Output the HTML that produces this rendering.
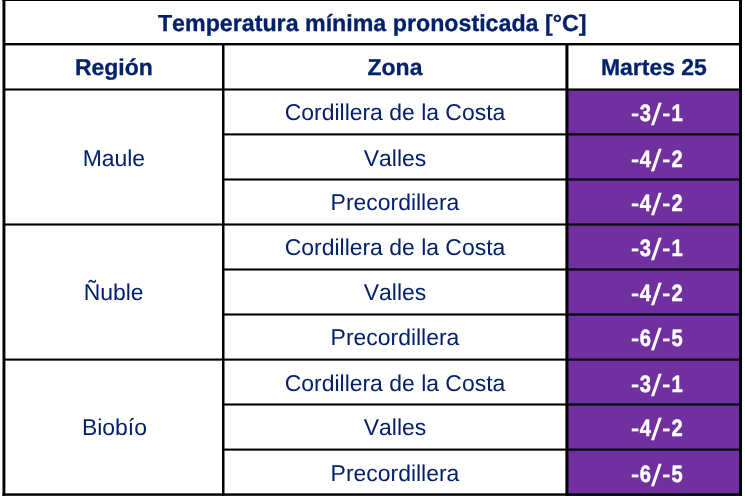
<!DOCTYPE html>
<html lang="es"><head><meta charset="utf-8"><title>Temperatura mínima pronosticada</title>
<style>html,body{margin:0;padding:0;background:#fff;overflow:hidden}svg{display:block}text{font-family:"Liberation Sans",Arial,sans-serif;font-kerning:none;text-rendering:geometricPrecision}.n text{text-anchor:middle}.b{font-weight:bold;stroke:#03206b;stroke-width:.3px}.n{fill:#03206b}.w{fill:#fff;font-weight:bold}</style></head><body>
<svg width="745" height="496" viewBox="0 0 745 496">
<rect x="0" y="0" width="745" height="496" fill="#fff"/>
<rect x="567.95" y="89.50" width="171.55" height="406.50" fill="#7030a0"/>
<g fill="#000">
<rect x="4.90" y="43.00" width="734.60" height="2.40"/>
<rect x="4.90" y="88.45" width="734.60" height="2.10"/>
<rect x="224.00" y="133.35" width="515.50" height="2.10"/>
<rect x="224.00" y="178.45" width="515.50" height="2.10"/>
<rect x="4.90" y="223.45" width="734.60" height="2.10"/>
<rect x="224.00" y="268.45" width="515.50" height="2.10"/>
<rect x="224.00" y="313.45" width="515.50" height="2.10"/>
<rect x="4.90" y="358.55" width="734.60" height="2.10"/>
<rect x="224.00" y="403.45" width="515.50" height="2.10"/>
<rect x="224.00" y="448.55" width="515.50" height="2.10"/>
<rect x="222.00" y="44.20" width="2.50" height="451.80"/>
<rect x="565.40" y="44.20" width="3.05" height="451.80"/>
<rect x="2.50" y="-2" width="2.90" height="500"/>
<rect x="739.00" y="-2" width="3.00" height="500"/>
<rect x="2.50" y="-2.00" width="739.50" height="3.00"/>
<rect x="2.50" y="493.35" width="739.50" height="2.45"/>
</g>
<g class="n" font-size="22.95">
<text class="b" font-size="23.23" x="372.20" y="31.00">Temperatura mínima pronosticada [°C]</text>
<text class="b" x="113.90" y="74.85">Región</text>
<text class="b" x="395.00" y="74.85">Zona</text>
<text class="b" x="653.90" y="74.85">Martes 25</text>
<text x="113.90" y="165.65">Maule</text>
<text x="395.00" y="119.80">Cordillera de la Costa</text>
<text x="395.00" y="165.70">Valles</text>
<text x="395.00" y="209.85">Precordillera</text>
<text x="113.60" y="300.15">Ñuble</text>
<text x="395.00" y="254.85">Cordillera de la Costa</text>
<text x="395.00" y="300.25">Valles</text>
<text x="395.00" y="344.90">Precordillera</text>
<text x="114.40" y="435.45">Biobío</text>
<text x="395.00" y="390.90">Cordillera de la Costa</text>
<text x="395.00" y="434.90">Valles</text>
<text x="395.00" y="480.95">Precordillera</text>
</g>
<g class="w" font-size="23.70">
<text><tspan x="630.79" y="120.60" font-size="23.50" textLength="8.61" lengthAdjust="spacingAndGlyphs">-</tspan><tspan x="639.65" y="120.90" font-size="23.70" textLength="11.20" lengthAdjust="spacingAndGlyphs" stroke="#fff" stroke-width="0.5">3</tspan><tspan x="651.10" y="124.80" font-size="30.80" textLength="10.70" lengthAdjust="spacingAndGlyphs" font-weight="normal">/</tspan><tspan x="662.09" y="120.60" font-size="23.50" textLength="8.61" lengthAdjust="spacingAndGlyphs">-</tspan><tspan x="671.40" y="120.90" font-size="23.70" textLength="11.20" lengthAdjust="spacingAndGlyphs" stroke="#fff" stroke-width="0.5">1</tspan></text>
<text><tspan x="630.79" y="166.50" font-size="23.50" textLength="8.61" lengthAdjust="spacingAndGlyphs">-</tspan><tspan x="639.65" y="166.80" font-size="23.70" textLength="11.20" lengthAdjust="spacingAndGlyphs" stroke="#fff" stroke-width="0.5">4</tspan><tspan x="651.10" y="170.70" font-size="30.80" textLength="10.70" lengthAdjust="spacingAndGlyphs" font-weight="normal">/</tspan><tspan x="662.09" y="166.50" font-size="23.50" textLength="8.61" lengthAdjust="spacingAndGlyphs">-</tspan><tspan x="671.40" y="166.80" font-size="23.70" textLength="11.20" lengthAdjust="spacingAndGlyphs" stroke="#fff" stroke-width="0.5">2</tspan></text>
<text><tspan x="630.79" y="210.65" font-size="23.50" textLength="8.61" lengthAdjust="spacingAndGlyphs">-</tspan><tspan x="639.65" y="210.95" font-size="23.70" textLength="11.20" lengthAdjust="spacingAndGlyphs" stroke="#fff" stroke-width="0.5">4</tspan><tspan x="651.10" y="214.85" font-size="30.80" textLength="10.70" lengthAdjust="spacingAndGlyphs" font-weight="normal">/</tspan><tspan x="662.09" y="210.65" font-size="23.50" textLength="8.61" lengthAdjust="spacingAndGlyphs">-</tspan><tspan x="671.40" y="210.95" font-size="23.70" textLength="11.20" lengthAdjust="spacingAndGlyphs" stroke="#fff" stroke-width="0.5">2</tspan></text>
<text><tspan x="630.79" y="255.65" font-size="23.50" textLength="8.61" lengthAdjust="spacingAndGlyphs">-</tspan><tspan x="639.65" y="255.95" font-size="23.70" textLength="11.20" lengthAdjust="spacingAndGlyphs" stroke="#fff" stroke-width="0.5">3</tspan><tspan x="651.10" y="259.85" font-size="30.80" textLength="10.70" lengthAdjust="spacingAndGlyphs" font-weight="normal">/</tspan><tspan x="662.09" y="255.65" font-size="23.50" textLength="8.61" lengthAdjust="spacingAndGlyphs">-</tspan><tspan x="671.40" y="255.95" font-size="23.70" textLength="11.20" lengthAdjust="spacingAndGlyphs" stroke="#fff" stroke-width="0.5">1</tspan></text>
<text><tspan x="630.79" y="301.05" font-size="23.50" textLength="8.61" lengthAdjust="spacingAndGlyphs">-</tspan><tspan x="639.65" y="301.35" font-size="23.70" textLength="11.20" lengthAdjust="spacingAndGlyphs" stroke="#fff" stroke-width="0.5">4</tspan><tspan x="651.10" y="305.25" font-size="30.80" textLength="10.70" lengthAdjust="spacingAndGlyphs" font-weight="normal">/</tspan><tspan x="662.09" y="301.05" font-size="23.50" textLength="8.61" lengthAdjust="spacingAndGlyphs">-</tspan><tspan x="671.40" y="301.35" font-size="23.70" textLength="11.20" lengthAdjust="spacingAndGlyphs" stroke="#fff" stroke-width="0.5">2</tspan></text>
<text><tspan x="630.79" y="345.70" font-size="23.50" textLength="8.61" lengthAdjust="spacingAndGlyphs">-</tspan><tspan x="639.65" y="346.00" font-size="23.70" textLength="11.20" lengthAdjust="spacingAndGlyphs" stroke="#fff" stroke-width="0.5">6</tspan><tspan x="651.10" y="349.90" font-size="30.80" textLength="10.70" lengthAdjust="spacingAndGlyphs" font-weight="normal">/</tspan><tspan x="662.09" y="345.70" font-size="23.50" textLength="8.61" lengthAdjust="spacingAndGlyphs">-</tspan><tspan x="671.40" y="346.00" font-size="23.70" textLength="11.20" lengthAdjust="spacingAndGlyphs" stroke="#fff" stroke-width="0.5">5</tspan></text>
<text><tspan x="630.79" y="391.70" font-size="23.50" textLength="8.61" lengthAdjust="spacingAndGlyphs">-</tspan><tspan x="639.65" y="392.00" font-size="23.70" textLength="11.20" lengthAdjust="spacingAndGlyphs" stroke="#fff" stroke-width="0.5">3</tspan><tspan x="651.10" y="395.90" font-size="30.80" textLength="10.70" lengthAdjust="spacingAndGlyphs" font-weight="normal">/</tspan><tspan x="662.09" y="391.70" font-size="23.50" textLength="8.61" lengthAdjust="spacingAndGlyphs">-</tspan><tspan x="671.40" y="392.00" font-size="23.70" textLength="11.20" lengthAdjust="spacingAndGlyphs" stroke="#fff" stroke-width="0.5">1</tspan></text>
<text><tspan x="630.79" y="435.70" font-size="23.50" textLength="8.61" lengthAdjust="spacingAndGlyphs">-</tspan><tspan x="639.65" y="436.00" font-size="23.70" textLength="11.20" lengthAdjust="spacingAndGlyphs" stroke="#fff" stroke-width="0.5">4</tspan><tspan x="651.10" y="439.90" font-size="30.80" textLength="10.70" lengthAdjust="spacingAndGlyphs" font-weight="normal">/</tspan><tspan x="662.09" y="435.70" font-size="23.50" textLength="8.61" lengthAdjust="spacingAndGlyphs">-</tspan><tspan x="671.40" y="436.00" font-size="23.70" textLength="11.20" lengthAdjust="spacingAndGlyphs" stroke="#fff" stroke-width="0.5">2</tspan></text>
<text><tspan x="630.79" y="481.75" font-size="23.50" textLength="8.61" lengthAdjust="spacingAndGlyphs">-</tspan><tspan x="639.65" y="482.05" font-size="23.70" textLength="11.20" lengthAdjust="spacingAndGlyphs" stroke="#fff" stroke-width="0.5">6</tspan><tspan x="651.10" y="485.95" font-size="30.80" textLength="10.70" lengthAdjust="spacingAndGlyphs" font-weight="normal">/</tspan><tspan x="662.09" y="481.75" font-size="23.50" textLength="8.61" lengthAdjust="spacingAndGlyphs">-</tspan><tspan x="671.40" y="482.05" font-size="23.70" textLength="11.20" lengthAdjust="spacingAndGlyphs" stroke="#fff" stroke-width="0.5">5</tspan></text>
</g>
</svg></body></html>
